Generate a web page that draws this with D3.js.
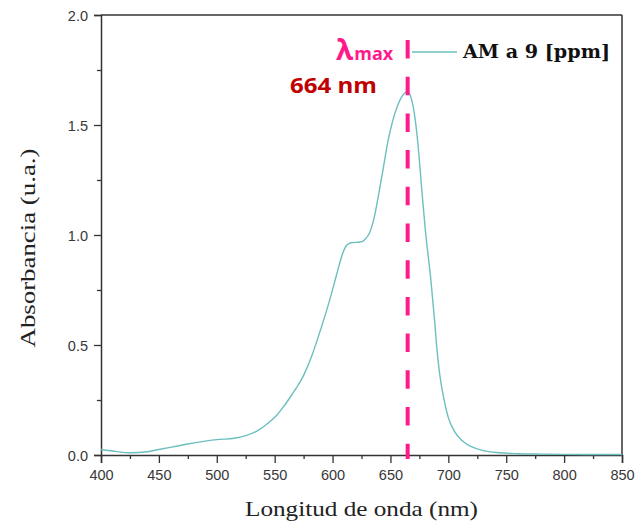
<!DOCTYPE html>
<html><head><meta charset="utf-8">
<script src="https://cdn.jsdelivr.net/npm/d3@7"></script>
<style>html,body{margin:0;padding:0;background:#fff;}</style>
</head><body>
<svg id="c" width="638" height="527"></svg>
<script>
const wavelengths = [400,410,425,440,450,465,475,490,500,515,525,535,545,552,558,565,570,575,582,590,597,603,608,612,616,624,628,632,636,640,644,648,652,656,660,664,666,668,671,674,677,680,685,688,690,693,696,700,705,712,720,730,745,760,780,800,850];
const absorbance = [0.025,0.018,0.01,0.015,0.025,0.04,0.05,0.063,0.07,0.076,0.088,0.11,0.148,0.182,0.222,0.275,0.315,0.362,0.45,0.575,0.695,0.81,0.905,0.952,0.965,0.968,0.98,1.01,1.08,1.19,1.31,1.43,1.52,1.585,1.63,1.65,1.645,1.62,1.54,1.40,1.21,1.03,0.79,0.62,0.49,0.35,0.26,0.17,0.11,0.065,0.038,0.02,0.01,0.006,0.004,0.003,0.002];
const xTicks = [400,450,500,550,600,650,700,750,800,850];
const yTicks = [0.0,0.5,1.0,1.5,2.0];
const lambdaMax = 664;
const seriesName = "AM a 9 [ppm]";

const svg = d3.select("#c");
const L = 101, R = 622, T = 15, B = 455;
const x = d3.scaleLinear().domain([400,850]).range([L,R]);
const y = d3.scaleLinear().domain([0,2]).range([B,T]);
const axisColor = "#333";

svg.append("line").attr("x1",L).attr("x2",R).attr("y1",T).attr("y2",T).attr("stroke",axisColor).attr("stroke-width",1.5);
svg.append("line").attr("x1",R).attr("x2",R).attr("y1",T).attr("y2",B).attr("stroke",axisColor).attr("stroke-width",1.5);

const xMinor = d3.range(425,850,50);
const yMinor = d3.range(0.25,2,0.5);
const gx = svg.append("g").attr("transform",`translate(0,${B})`)
  .call(d3.axisBottom(x).tickValues(xTicks).tickFormat(d3.format("d")).tickSize(8).tickPadding(4));
svg.append("g").attr("transform",`translate(0,${B})`)
  .call(d3.axisBottom(x).tickValues(xMinor).tickFormat("").tickSize(4))
  .call(g=>g.select(".domain").remove());
const gy = svg.append("g").attr("transform",`translate(${L},0)`)
  .call(d3.axisLeft(y).tickValues(yTicks).tickFormat(d3.format(".1f")).tickSize(7).tickPadding(6));
svg.append("g").attr("transform",`translate(${L},0)`)
  .call(d3.axisLeft(y).tickValues(yMinor).tickFormat("").tickSize(4))
  .call(g=>g.select(".domain").remove());
svg.selectAll(".domain").attr("stroke",axisColor).attr("stroke-width",1.5);
svg.selectAll(".tick line").attr("stroke",axisColor).attr("stroke-width",1.3);
svg.selectAll(".tick text").attr("font-family","Liberation Sans, Arial, sans-serif").attr("font-size",14.5).attr("fill","#383838");
gx.selectAll(".tick text").attr("dy","0.9em");
gy.selectAll(".tick text").attr("dy","0.35em");

const pts = wavelengths.map((w,i)=>[w,absorbance[i]]);
svg.append("path").datum(pts)
  .attr("d", d3.line().x(d=>x(d[0])).y(d=>y(d[1])).curve(d3.curveMonotoneX))
  .attr("fill","none").attr("stroke","#6cbfbf").attr("stroke-width",1.4);

svg.append("line").attr("x1",x(lambdaMax)+1).attr("x2",x(lambdaMax)+1).attr("y1",40).attr("y2",459)
  .attr("stroke","#ff1a8c").attr("stroke-width",4).attr("stroke-dasharray","18.5,18.2");

svg.append("line").attr("x1",412).attr("x2",457).attr("y1",52).attr("y2",52).attr("stroke","#6cbfbf").attr("stroke-width",1.4);
svg.append("text").attr("x",463).attr("y",58).text(seriesName)
  .attr("font-family","DejaVu Serif, serif").attr("font-weight","bold").attr("font-size",18)
  .attr("textLength",147).attr("lengthAdjust","spacingAndGlyphs").attr("fill","#111");

const lt = svg.append("text").attr("x",336).attr("y",60).attr("fill","#ff1a8c")
  .attr("font-family","Open Sans, sans-serif").attr("font-weight","bold");
lt.append("tspan").text("λ").attr("font-size",28);
lt.append("tspan").text("max").attr("font-size",18).attr("dx",1);
svg.append("text").attr("x",290).attr("y",93).text(lambdaMax + " nm")
  .attr("font-family","Open Sans, sans-serif").attr("font-weight","bold").attr("font-size",22)
  .attr("fill","#c00000").attr("textLength",87).attr("lengthAdjust","spacingAndGlyphs");

svg.append("text").attr("x",(L+R)/2).attr("y",516).attr("text-anchor","middle")
  .text("Longitud de onda (nm)").attr("font-family","Liberation Serif, serif").attr("font-size",21)
  .attr("fill","#222").attr("textLength",233).attr("lengthAdjust","spacingAndGlyphs");
svg.append("text").attr("transform","translate(35,248) rotate(-90)").attr("text-anchor","middle")
  .text("Absorbancia (u.a.)").attr("font-family","Liberation Serif, serif").attr("font-size",21)
  .attr("fill","#222").attr("textLength",199).attr("lengthAdjust","spacingAndGlyphs");
</script>
</body></html>
